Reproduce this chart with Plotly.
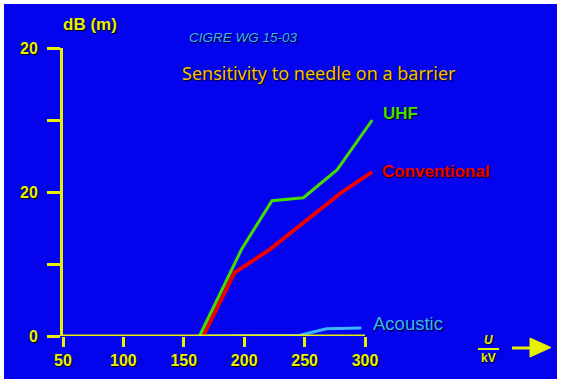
import plotly.graph_objects as go

# ---- data ----
uhf_x = [163, 191, 198, 223, 249, 277, 306]
uhf_y = [0, 9.6, 12.1, 18.8, 19.2, 23.1, 30.0]
conv_x = [166, 192, 221, 281, 306]
conv_y = [0, 8.8, 12.0, 20.0, 22.8]
ac_x = [163, 246, 268, 297]
ac_y = [0, 0.1, 1.0, 1.1]
x_ticks = [50, 100, 150, 200, 250, 300]
y_ticks = [0, 10, 20, 30, 40]
y_ticktext = ["0", "", "20", "", "20"]

BLUE = "#0303EE"
YEL = "#E8F000"
GREEN = "#44DD00"
RED = "#F00000"
CYAN = "#3CB4FF"
SHADOW = "1px 1px 1px #000000"

# plot-area geometry in pixels
L, T, R, B = 63, 48, 557, 336
W, H = R - L, B - T


def px(xp):
    return (xp - L) / W


def py(yp):
    return (B - yp) / H


fig = go.Figure()
fig.add_trace(go.Scatter(x=ac_x, y=ac_y, mode="lines", line=dict(color=CYAN, width=3), hoverinfo="skip"))
fig.add_trace(go.Scatter(x=conv_x, y=conv_y, mode="lines", line=dict(color=RED, width=4), hoverinfo="skip"))
fig.add_trace(go.Scatter(x=uhf_x, y=uhf_y, mode="lines", line=dict(color=GREEN, width=3), hoverinfo="skip"))

x_right = 50 + W * 250 / 302

tickfont = dict(family="Liberation Sans, Arial", size=16, color=YEL, weight="bold", shadow=SHADOW)

fig.update_layout(
    width=562, height=384,
    margin=dict(l=L, r=562 - R, t=T, b=384 - B, autoexpand=False),
    paper_bgcolor="white",
    plot_bgcolor="rgba(0,0,0,0)",
    showlegend=False,
    xaxis=dict(range=[50, x_right], tickvals=x_ticks, ticks="outside", ticklen=10, tickwidth=3,
               tickcolor=YEL, showline=False, showgrid=False, zeroline=False, tickfont=tickfont,
               fixedrange=True, automargin=False),
    yaxis=dict(range=[0, 40], tickvals=y_ticks, ticktext=y_ticktext, ticks="outside", ticklen=13,
               tickwidth=3, tickcolor=YEL, showline=True, linewidth=3, linecolor=YEL,
               showgrid=False, zeroline=False, tickfont=tickfont, ticklabelstandoff=6,
               fixedrange=True, automargin=False),
)

# blue background panel with white border
fig.add_shape(type="rect", xref="paper", yref="paper", x0=px(4), x1=px(557), y0=py(379), y1=py(4),
              fillcolor=BLUE, line=dict(width=0), layer="below")
# x axis line
fig.add_shape(type="line", xref="x", yref="y", x0=50, x1=300, y0=0, y1=0,
              line=dict(color=YEL, width=3), layer="above")
# arrow at the right of the x axis
fig.add_shape(type="line", xref="paper", yref="paper", x0=px(512), x1=px(532), y0=py(348), y1=py(348),
              line=dict(color=YEL, width=3))
fig.add_shape(type="path", xref="paper", yref="paper",
              path=f"M {px(530)} {py(338)} L {px(551)} {py(347.5)} L {px(530)} {py(357)} Z",
              fillcolor=YEL, line=dict(color=YEL, width=1))
fig.add_shape(type="line", xref="paper", yref="paper", x0=px(478), x1=px(499), y0=py(349), y1=py(349),
              line=dict(color=YEL, width=2))


def ann(text, x, y, size, color, xanchor="left", weight="normal", style="normal", family="Liberation Sans, Arial"):
    fig.add_annotation(text=text, xref="paper", yref="paper", x=px(x), y=py(y), xanchor=xanchor,
                       yanchor="middle", showarrow=False,
                       font=dict(family=family, size=size, color=color, weight=weight, style=style,
                                 shadow=SHADOW))


ann("dB (m)", 61, 25, 17, YEL, weight="bold")
ann("CIGRE WG 15-03", 187, 37, 13.5, CYAN, style="italic")
ann("Sensitivity to needle on a barrier", 319, 73, 18, "#F8C000", xanchor="center", family="Noto Sans")
ann("UHF", 381, 113, 17, GREEN, weight="bold")
ann("Conventional", 380, 171, 17, RED, weight="bold")
ann("Acoustic", 371, 323, 18.5, CYAN)
ann("U", 488.5, 340, 12, YEL, xanchor="center", weight="bold", style="italic")
ann("kV", 488.5, 358, 12, YEL, xanchor="center", weight="bold")

fig.write_html("out.html", config={"displayModeBar": False},
               post_script="document.body.style.margin='0';document.body.style.overflow='hidden';")
